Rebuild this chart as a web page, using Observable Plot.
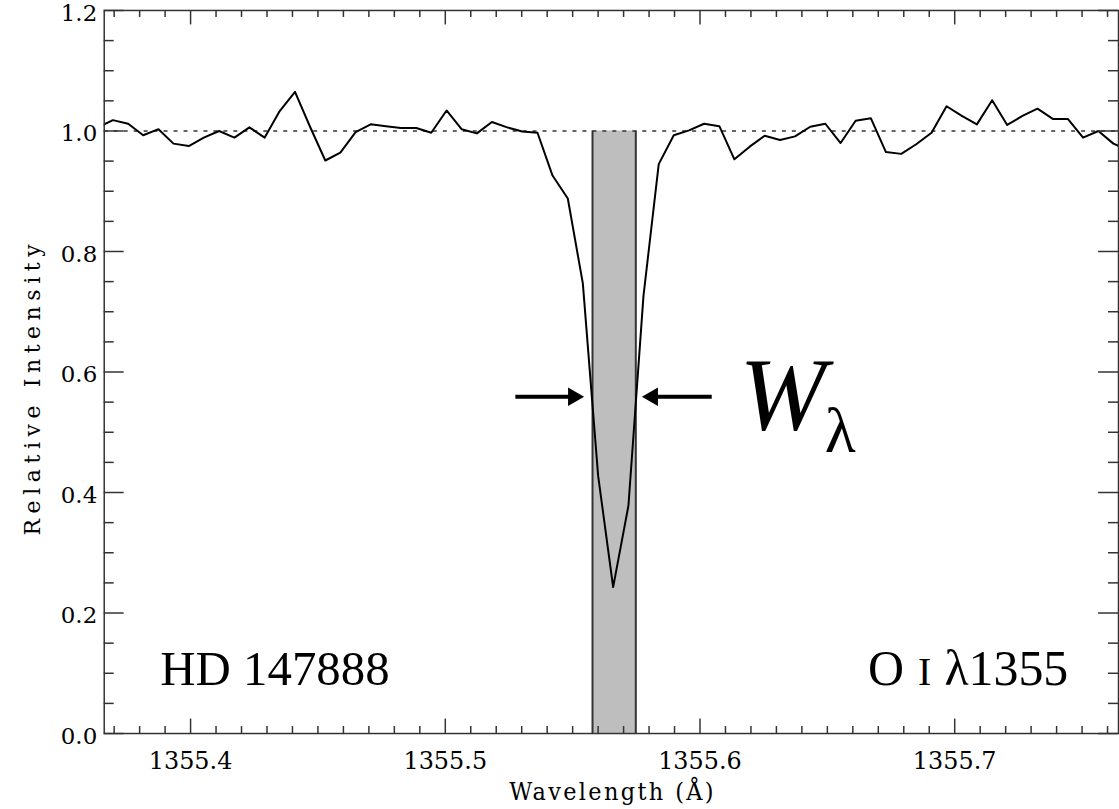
<!DOCTYPE html>
<html><head><meta charset="utf-8">
<script src="https://cdn.jsdelivr.net/npm/d3@7"></script>
<script src="https://cdn.jsdelivr.net/npm/@observablehq/plot@0.6"></script>
<style>
html,body{margin:0;padding:0;overflow:hidden;background:#fff;}
</style></head><body><div id="chart"></div>
<script>
// Spectrum
const wavelength = [1355.3636,1355.3695,1355.3755,1355.3814,1355.3874,1355.3933,1355.3993,1355.4052,1355.4112,1355.4172,
1355.4231,1355.4291,1355.4350,1355.4410,1355.4469,1355.4529,1355.4588,1355.4648,1355.4707,1355.4767,
1355.4826,1355.4886,1355.4945,1355.5005,1355.5064,1355.5124,1355.5183,1355.5243,1355.5302,1355.5362,
1355.5421,1355.5481,1355.5540,1355.5600,1355.5659,1355.5719,1355.5778,1355.5838,1355.5897,1355.5957,
1355.6016,1355.6076,1355.6135,1355.6195,1355.6254,1355.6314,1355.6373,1355.6433,1355.6492,1355.6552,
1355.6611,1355.6671,1355.6730,1355.6790,1355.6849,1355.6909,1355.6968,1355.7028,1355.7087,1355.7147,
1355.7206,1355.7266,1355.7325,1355.7385,1355.7444,1355.7504,1355.7564,1355.7623,1355.7683];
const intensity = [1.006,1.018,1.012,0.993,1.003,0.979,0.975,0.989,1.000,0.989,
1.006,0.989,1.033,1.065,1.007,0.951,0.964,0.998,1.011,1.008,
1.005,1.005,0.997,1.034,1.003,0.996,1.015,1.006,0.999,0.997,
0.926,0.888,0.747,0.428,0.243,0.378,0.726,0.945,0.993,1.001,
1.012,1.008,0.953,0.974,0.992,0.985,0.991,1.007,1.012,0.980,
1.017,1.021,0.965,0.962,0.978,0.997,1.041,1.025,1.011,1.051,
1.010,1.025,1.037,1.020,1.020,0.989,1.000,0.979,0.968];
const continuum = [1.0];
const bandEdges = [1355.5578, 1355.5748];
const arrowTail = [1355.5275, 1355.6046];
const arrowTip = [1355.5545, 1355.5772];
const arrowLevel = [0.559, 0.559];

const xDomain = [1355.3661, 1355.7643];
const yDomain = [0, 1.2];
const xMajorTicks = [1355.4, 1355.5, 1355.6, 1355.7];
const xTickLabels = ["1355.4", "1355.5", "1355.6", "1355.7"];
const xMinorTicks = [1355.37,1355.38,1355.39,1355.41,1355.42,1355.43,1355.44,1355.45,1355.46,1355.47,1355.48,1355.49,
1355.51,1355.52,1355.53,1355.54,1355.55,1355.56,1355.57,1355.58,1355.59,
1355.61,1355.62,1355.63,1355.64,1355.65,1355.66,1355.67,1355.68,1355.69,
1355.71,1355.72,1355.73,1355.74,1355.75,1355.76];
const yMajorTicks = [0, 0.2, 0.4, 0.6, 0.8, 1.0, 1.2];
const yTickLabels = ["0.0", "0.2", "0.4", "0.6", "0.8", "1.0", "1.2"];
const yMinorTicks = [0.05,0.1,0.15,0.25,0.3,0.35,0.45,0.5,0.55,0.65,0.7,0.75,0.85,0.9,0.95,1.05,1.1,1.15];

const xTitle = "Wavelength (Å)";
const yTitle = "Relative Intensity";

// layout
const W = 1122, H = 809, mL = 104, mR = 1, mT = 10, mB = 74;
const fw = W - mL - mR, fh = H - mT - mB;

const spectrum = wavelength.map((w, i) => ({w, v: intensity[i]}));
const band = [{x1: bandEdges[0], x2: bandEdges[1], y1: 0, y2: continuum[0]}];
const arrows = arrowTail.map((t, i) => ({x1: t, x2: arrowTip[i], y: arrowLevel[i]}));

const axisColor = "#333";
const tickFont = "DejaVu Serif";
const titleFont = "DejaVu Serif Condensed, DejaVu Serif";

const chart = Plot.plot({
  width: W, height: H,
  marginLeft: mL, marginRight: mR, marginTop: mT, marginBottom: mB,
  x: {domain: xDomain, axis: null},
  y: {domain: yDomain, axis: null},
  style: {background: "white", overflow: "visible"},
  marks: [
    Plot.rect(band, {x1: "x1", x2: "x2", y1: "y1", y2: "y2", fill: "#bebebe"}),
    Plot.ruleX(bandEdges, {x: d => d, y1: 0, y2: continuum[0], stroke: "#333", strokeWidth: 2}),
    Plot.ruleY(continuum, {y: d => d, stroke: "#333", strokeWidth: 1.3, strokeDasharray: "4,6"}),
    Plot.line(spectrum, {x: "w", y: "v", stroke: "black", strokeWidth: 2, clip: true}),
    Plot.frame({stroke: axisColor, strokeWidth: 1.5}),
    // x ticks bottom & top
    Plot.tickX(xMajorTicks, {x: d => d, insetTop: fh - 14.5, stroke: axisColor, strokeWidth: 1.5}),
    Plot.tickX(xMinorTicks, {x: d => d, insetTop: fh - 7, stroke: axisColor, strokeWidth: 1.5}),
    Plot.tickX(xMajorTicks, {x: d => d, insetBottom: fh - 14.5, stroke: axisColor, strokeWidth: 1.5}),
    Plot.tickX(xMinorTicks, {x: d => d, insetBottom: fh - 7, stroke: axisColor, strokeWidth: 1.5}),
    // y ticks left & right
    Plot.tickY(yMajorTicks, {y: d => d, insetRight: fw - 20, stroke: axisColor, strokeWidth: 1.5}),
    Plot.tickY(yMinorTicks, {y: d => d, insetRight: fw - 10, stroke: axisColor, strokeWidth: 1.5}),
    Plot.tickY(yMajorTicks, {y: d => d, insetLeft: fw - 20, stroke: axisColor, strokeWidth: 1.5}),
    Plot.tickY(yMinorTicks, {y: d => d, insetLeft: fw - 10, stroke: axisColor, strokeWidth: 1.5}),
    // tick labels
    Plot.text(xMajorTicks, {x: d => d, text: (d, i) => xTickLabels[i], frameAnchor: "bottom", dy: 28,
      lineAnchor: "middle", fontSize: 24, fontFamily: tickFont, fill: "black"}),
    Plot.text(yMajorTicks, {y: d => d, text: (d, i) => yTickLabels[i], frameAnchor: "left", dx: -7, dy: 3,
      textAnchor: "end", lineAnchor: "middle", fontSize: 23, fontFamily: tickFont, fill: "black"}),
    // axis titles
    Plot.text([xTitle], {frameAnchor: "bottom", dy: 67, lineAnchor: "bottom", textAnchor: "middle",
      fontSize: 25, fontFamily: titleFont, fill: "black"}),
    Plot.text([yTitle], {frameAnchor: "left", dx: -71, dy: 18, rotate: -90, textAnchor: "middle",
      lineAnchor: "middle", fontSize: 22, fontFamily: "DejaVu Serif", fill: "black"}),
    // arrows
    Plot.arrow(arrows, {x1: "x1", x2: "x2", y1: "y", y2: "y", headLength: 0, insetEnd: 10,
      stroke: "black", strokeWidth: 4, strokeLinecap: "butt"}),
    Plot.dot([arrows[0]], {x: "x2", y: "y", symbol: "triangle", r: 6.9, rotate: 90, dx: -10.7,
      fill: "black", stroke: "none"}),
    Plot.dot([arrows[1]], {x: "x2", y: "y", symbol: "triangle", r: 6.9, rotate: -90, dx: 10.7,
      fill: "black", stroke: "none"}),
    // annotations
    Plot.text(["W"], {x: 1355.6155, y: 0.5048, textAnchor: "start", lineAnchor: "bottom",
      fontSize: 104, fontStyle: "italic", fontFamily: "Liberation Serif", fill: "black"}),
    Plot.text(["λ"], {x: 1355.6490, y: 0.4668, textAnchor: "start", lineAnchor: "bottom",
      fontSize: 64, fontFamily: "Liberation Serif", fill: "black"}),
    Plot.text(["HD 147888"], {x: 1355.3881, y: 0.080, textAnchor: "start", lineAnchor: "bottom",
      fontSize: 49, fontFamily: "Liberation Serif", fill: "black"}),
    Plot.text(["O"], {x: 1355.6660, y: 0.080, textAnchor: "start", lineAnchor: "bottom",
      fontSize: 50, fontFamily: "Liberation Serif", fill: "black"}),
    Plot.text(["I"], {x: 1355.6856, y: 0.080, textAnchor: "start", lineAnchor: "bottom",
      fontSize: 40, fontFamily: "Liberation Serif", fill: "black"}),
    Plot.text(["λ1355"], {x: 1355.7446, y: 0.080, textAnchor: "end", lineAnchor: "bottom",
      fontSize: 50, fontFamily: "Liberation Serif", fill: "black"})
  ]
});
document.getElementById("chart").appendChild(chart);

// stretch the axis titles to the widths seen in the reference
d3.select(chart).selectAll("text").each(function () {
  if (this.textContent === xTitle) { this.setAttribute("textLength", 205); this.setAttribute("lengthAdjust", "spacing"); }
  if (this.textContent === yTitle) { this.setAttribute("textLength", 292); this.setAttribute("lengthAdjust", "spacing"); }
});
</script></body></html>
